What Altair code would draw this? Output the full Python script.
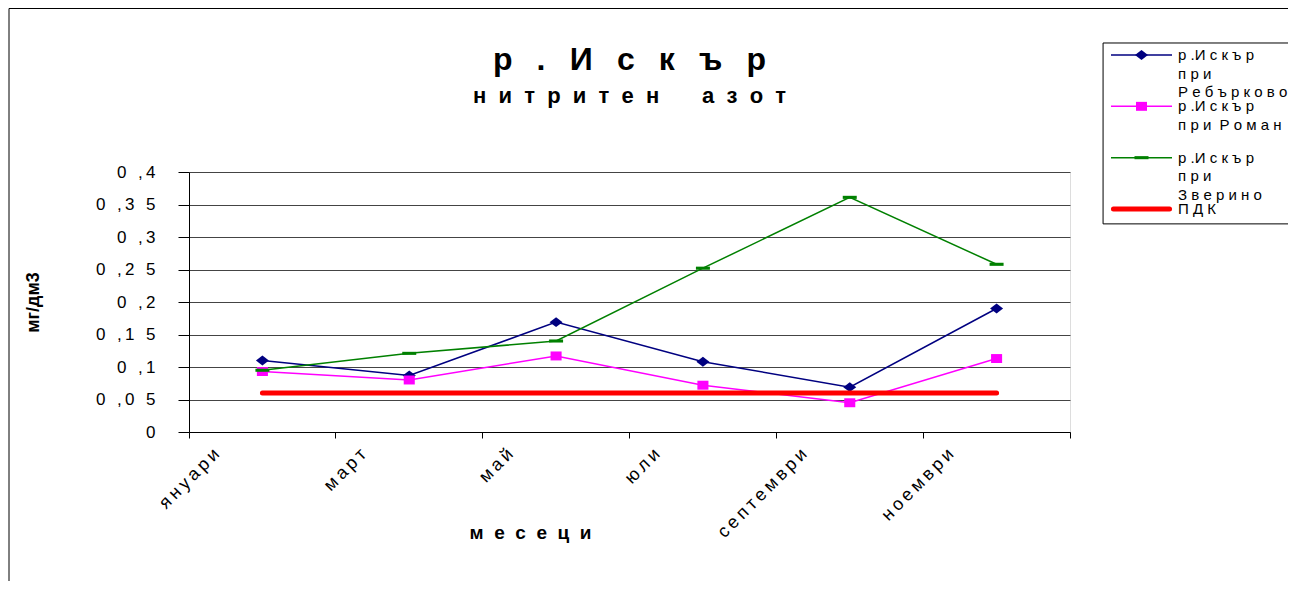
import json
import altair as alt
import pandas as pd

# ---------------- data ----------------
months = ["януари", "март", "май", "юли", "септември", "ноември"]
series = ["р.Искър при Ребърково", "р.Искър при Роман", "р.Искър при Зверино", "ПДК"]
rebarkovo = [0.110, 0.087, 0.169, 0.108, 0.069, 0.190]
roman = [0.093, 0.080, 0.117, 0.072, 0.045, 0.113]
zverino = [0.095, 0.121, 0.140, 0.252, 0.361, 0.258]
pdk = [0.06, 0.06, 0.06, 0.06, 0.06, 0.06]
colors = ["#000080", "#FF00FF", "#008000", "#FF0000"]

y_ticks = [0, 0.05, 0.1, 0.15, 0.2, 0.25, 0.3, 0.35, 0.4]
y_tick_labels = ["0", "0 ,0 5", "0 ,1", "0 ,1 5", "0 ,2", "0 ,2 5", "0 ,3", "0 ,3 5", "0 ,4"]
legend_lines = [
    ["р .И с к ъ р", "п р и", "Р е б ъ р к о в о"],
    ["р .И с к ъ р", "п р и  Р о м а н"],
    ["р .И с к ъ р", "п р и", "З в е р и н о"],
    ["П Д К"],
]
NB = "\u00a0"
TS = "\u2009"
title_text = (NB * 2 + TS).join(list("р.Искър"))
subtitle_text = (NB * 2).join(list("нитритен")) + NB * 7 + (NB * 2).join(list("азот"))
x_title = (NB * 2).join(list("месеци"))
y_title = "мг/дм3"

# ---------------- tables ----------------
rows = []
for name, vals in zip(series, [rebarkovo, roman, zverino, pdk]):
    for m, v in zip(months, vals):
        rows.append({"month": m, "series": name, "value": v})
df = pd.DataFrame(rows)
df_rivers = df[df["series"] != "ПДК"]
df_pdk = df[df["series"] == "ПДК"]

df_legend = pd.DataFrame({
    "series": series,
    "row": list(range(len(series))),
    "label": ["\n".join(l.replace(" ", NB) for l in lines) for lines in legend_lines],
})
df_legend_rivers = df_legend[df_legend["series"] != "ПДК"]
df_legend_pdk = df_legend[df_legend["series"] == "ПДК"]

FONT = "Liberation Sans"
color_scale = alt.Scale(domain=series, range=colors)
marker_paths = [
    "M0,-0.71L0.93,0L0,0.71L-0.93,0Z",
    "M-0.79,-0.64L0.79,-0.64L0.79,0.64L-0.79,0.64Z",
    "M-1,-0.22L1,-0.22L1,0.22L-1,0.22Z",
    "M-0.1,0L0.1,0",
]
shape_scale = alt.Scale(domain=series, range=marker_paths)

spaced_ticks = [TS.join(list(t)) for t in y_tick_labels]
y_label_expr = json.dumps({f"{t:.2f}": l for t, l in zip(y_ticks, spaced_ticks)}, ensure_ascii=False) + "[format(datum.value, '.2f')]"
month_label_expr = json.dumps({m: TS.join(list(m)) for m in months}, ensure_ascii=False) + "[datum.label]"

x_enc = alt.X(
    "month:N", sort=months, bandPosition=0.5,
    scale=alt.Scale(type="band", paddingInner=0, paddingOuter=0),
    axis=alt.Axis(
        bandPosition=1, tickExtra=True, tickSize=6, tickColor="black",
        domainColor="black", grid=False, labelExpr=month_label_expr,
        labelAngle=315, labelAlign="right", labelBaseline="alphabetic",
        labelOffset=-42, labelPadding=17, labelFontSize=18, labelFont=FONT,
        labelColor="black", labelOverlap=False, labelLimit=300,
        title=x_title, titleFont=FONT, titleFontSize=19, titleFontWeight="bold",
        titleColor="black", titleX=341, titleY=100, titleAlign="center",
        titleBaseline="middle", titleAnchor="start",
    ),
)
y_enc = alt.Y(
    "value:Q",
    scale=alt.Scale(domain=[0, 0.4], nice=False, zero=True),
    axis=alt.Axis(
        values=y_ticks, labelExpr=y_label_expr, tickSize=11, tickColor="black",
        domainColor="black", grid=True, gridColor="#444444", gridWidth=1,
        labelPadding=23, labelFontSize=17, labelFont=FONT, labelColor="black",
        title=y_title, titleFont=FONT, titleFontSize=18, titleFontWeight="bold",
        titleColor="black", titleAngle=270, titleX=-156, titleY=130,
        titleAlign="center", titleBaseline="middle", titleAnchor="start",
    ),
)
color_enc = alt.Color("series:N", scale=color_scale, legend=None)
shape_enc = alt.Shape("series:N", scale=shape_scale, legend=None)

lines = alt.Chart(df_rivers).mark_line(strokeWidth=1.5).encode(x=x_enc, y=y_enc, color=color_enc)
points = alt.Chart(df_rivers).mark_point(size=196, filled=True, opacity=1).encode(
    x=x_enc, y=y_enc, color=color_enc, shape=shape_enc
)
pdk_line = alt.Chart(df_pdk).mark_line(strokeWidth=5, strokeCap="round").encode(x=x_enc, y=y_enc, color=color_enc)
main = alt.layer(lines, points, pdk_line)

# ---------------- legend (drawn through its own scales) ----------------
lx = alt.Scale(domain=[0, 1], range=[922, 983], nice=False, zero=False)
ly = alt.Scale(domain=[0, 3], range=[-117, 37], nice=False, zero=False)
ly_enc = alt.Y("row:Q", scale=ly, axis=None)

legend_box = alt.Chart(df_legend_pdk).mark_rect(fill="white", stroke="black", strokeWidth=1).encode(
    x=alt.X(datum=-0.13, scale=lx, axis=None), x2=alt.X2(datum=3.6),
    y=alt.Y(datum=-0.234, scale=ly, axis=None), y2=alt.Y2(datum=3.29),
)
legend_rules = alt.Chart(df_legend_rivers).mark_rule(strokeWidth=1.5).encode(
    x=alt.X(datum=0, scale=lx, axis=None), x2=alt.X2(datum=1), y=ly_enc, color=color_enc
)
legend_pdk = alt.Chart(df_legend_pdk).mark_rule(strokeWidth=5, strokeCap="round").encode(
    x=alt.X(datum=0.04, scale=lx, axis=None), x2=alt.X2(datum=0.96), y=ly_enc, color=color_enc
)
legend_points = alt.Chart(df_legend_rivers).mark_point(size=196, filled=True, opacity=1).encode(
    x=alt.X(datum=0.5, scale=lx, axis=None), y=ly_enc, color=color_enc, shape=shape_enc
)
legend_text = alt.Chart(df_legend).mark_text(
    align="left", baseline="alphabetic", dy=5, lineBreak="\n", lineHeight=18.5,
    font=FONT, fontSize=15, color="black",
).encode(x=alt.X(datum=1.1, scale=lx, axis=None), y=ly_enc, text="label:N")

frame = alt.Chart(df_legend_pdk).mark_rect(
    fillOpacity=0, stroke="black", strokeWidth=1
).encode(x=alt.value(-180), x2=alt.value(1200), y=alt.value(-163.5), y2=alt.value(500))

legend = alt.layer(frame, legend_box, legend_rules, legend_pdk, legend_points, legend_text)

chart = alt.layer(main, legend).resolve_scale(
    x="independent", y="independent"
).properties(
    width=881, height=260,
    autosize=alt.AutoSizeParams(type="none"),
    padding={"left": 181, "top": 164, "right": 218, "bottom": 149},
    title=alt.TitleParams(
        text=title_text, subtitle=subtitle_text, anchor="middle",
        font=FONT, fontSize=32, fontWeight="bold", color="black",
        subtitleFont=FONT, subtitleFontSize=22, subtitleFontWeight="bold",
        subtitleColor="black", subtitlePadding=9, offset=-100,
    ),
).configure_view(stroke="#888888", strokeWidth=1.5).configure(font=FONT, background="white")

chart.save("out.html", embed_options={"renderer": "svg", "actions": False})
